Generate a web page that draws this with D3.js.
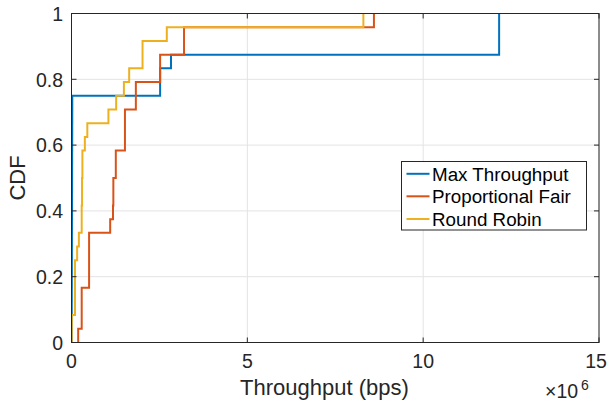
<!DOCTYPE html>
<html>
<head>
<meta charset="utf-8">
<script src="https://cdn.jsdelivr.net/npm/d3@7"></script>
<style>
  html, body { margin: 0; padding: 0; background: #fff; }
  svg { display: block; font-family: "Liberation Sans", Arial, Helvetica, sans-serif; }
</style>
</head>
<body>
<svg id="chart" width="608" height="403"></svg>
<script>
// Throughput samples, in units of 1e6 bps (24 users per scheduler)
const seriesNames = ["Max Throughput", "Proportional Fair", "Round Robin"];
const seriesColors = ["#0072BD", "#D95319", "#EDB120"];
const maxThroughput = [0.005, 0.006, 0.007, 0.008, 0.009, 0.010, 0.011, 0.012, 0.013,
  0.014, 0.015, 0.016, 0.017, 0.018, 0.019, 0.020, 0.021, 0.022,
  2.52, 2.52, 2.83, 12.16, 12.16, 12.16];
const proportionalFair = [0.19, 0.29, 0.29, 0.29, 0.50, 0.50, 0.50, 0.50, 1.10,
  1.18, 1.19, 1.19, 1.26, 1.26, 1.52, 1.52, 1.52, 1.83, 1.83, 2.52, 2.52, 3.20, 3.20, 8.60];
const roundRobin = [0.005, 0.008, 0.10, 0.10, 0.10, 0.10, 0.16, 0.21, 0.29, 0.29,
  0.30, 0.30, 0.31, 0.31, 0.38, 0.45, 1.05, 1.27, 1.49, 1.64, 2.02, 2.02, 2.71, 8.30];
const xTicks = [0, 5, 10, 15];
const yTicks = [0, 0.2, 0.4, 0.6, 0.8, 1];
const yTickLabels = ["0", "0.2", "0.4", "0.6", "0.8", "1"];
const xLabel = "Throughput (bps)";
const yLabel = "CDF";

const svg = d3.select("#chart");
const W = 608;
const L = 71.5, R = 599, T = 13.5, B = 342.5;
const x = d3.scaleLinear().domain([0, 15]).range([L, R]);
const y = d3.scaleLinear().domain([0, 1]).range([B, T]);
const axisColor = "#262626";

// grid
const grid = svg.append("g");
xTicks.forEach(t => grid.append("line").attr("x1", x(t)).attr("x2", x(t)).attr("y1", T).attr("y2", B)
  .attr("stroke", "#e3e3e3").attr("stroke-width", 1));
yTicks.forEach(t => grid.append("line").attr("x1", L).attr("x2", R).attr("y1", y(t)).attr("y2", y(t))
  .attr("stroke", "#e3e3e3").attr("stroke-width", 1));

// clip
svg.append("clipPath").attr("id", "clip").append("rect")
  .attr("x", L).attr("y", T - 2).attr("width", R - L).attr("height", B - T + 2);

// CDF lines
const allSeries = [maxThroughput, proportionalFair, roundRobin];
const line = d3.line().x(d => x(d[0])).y(d => y(d[1])).curve(d3.curveStepAfter);
allSeries.forEach((vals, i) => {
  const s = vals.slice().sort((a, b) => a - b);
  const n = s.length;
  const pts = [[s[0], 0]];
  s.forEach((v, k) => pts.push([v, (k + 1) / n]));
  svg.append("path").attr("d", line(pts)).attr("fill", "none")
    .attr("stroke", seriesColors[i]).attr("stroke-width", 2)
    .attr("clip-path", "url(#clip)");
});

// axes (box with inward ticks)
const tickLen = 5;
const ax = svg.append("g").attr("stroke", axisColor).attr("stroke-width", 1);
ax.append("rect").attr("x", L).attr("y", T).attr("width", R - L).attr("height", B - T)
  .attr("fill", "none");
xTicks.forEach(t => {
  ax.append("line").attr("x1", x(t)).attr("x2", x(t)).attr("y1", B).attr("y2", B - tickLen);
  ax.append("line").attr("x1", x(t)).attr("x2", x(t)).attr("y1", T).attr("y2", T + tickLen);
});
yTicks.forEach(t => {
  ax.append("line").attr("x1", L).attr("x2", L + tickLen).attr("y1", y(t)).attr("y2", y(t));
  ax.append("line").attr("x1", R).attr("x2", R - tickLen).attr("y1", y(t)).attr("y2", y(t));
});

// tick labels
const tl = svg.append("g").attr("fill", axisColor).attr("font-size", "19.5px");
xTicks.forEach(t => {
  const txt = tl.append("text").attr("x", x(t)).attr("y", 368.3).attr("text-anchor", "middle").text(String(t));
  const bb = txt.node().getBBox();
  if (bb.x + bb.width > W - 1) txt.attr("x", x(t) - (bb.x + bb.width - (W - 1)));
});
yTicks.forEach((t, i) => tl.append("text").attr("x", 63).attr("y", y(t) + 7.3).attr("text-anchor", "end").text(yTickLabels[i]));

// exponent
const ex = svg.append("text").attr("fill", axisColor).attr("font-size", "19.5px").attr("x", 545).attr("y", 398);
ex.append("tspan").text("\u00d710");
ex.append("tspan").attr("font-size", "14px").attr("dx", 3).attr("dy", -8).text("6");

// axis labels
svg.append("text").attr("x", 324.5).attr("y", 395).attr("text-anchor", "middle")
  .attr("fill", axisColor).attr("font-size", "22px").text(xLabel);
svg.append("text").attr("transform", `translate(25,${(T + B) / 2}) rotate(-90)`)
  .attr("text-anchor", "middle").attr("fill", axisColor).attr("font-size", "22px").text(yLabel);

// legend
const lg = svg.append("g");
lg.append("rect").attr("x", 401.5).attr("y", 161.5).attr("width", 185).attr("height", 68.5)
  .attr("fill", "#fff").attr("stroke", axisColor).attr("stroke-width", 1);
const rowY = [173.8, 196.3, 219];
seriesNames.forEach((name, i) => {
  lg.append("line").attr("x1", 406.5).attr("x2", 429.5).attr("y1", rowY[i]).attr("y2", rowY[i])
    .attr("stroke", seriesColors[i]).attr("stroke-width", 2);
  lg.append("text").attr("x", 432).attr("y", rowY[i] + 7).attr("font-size", "18.8px")
    .attr("fill", "#000").text(name);
});
</script>
</body>
</html>
